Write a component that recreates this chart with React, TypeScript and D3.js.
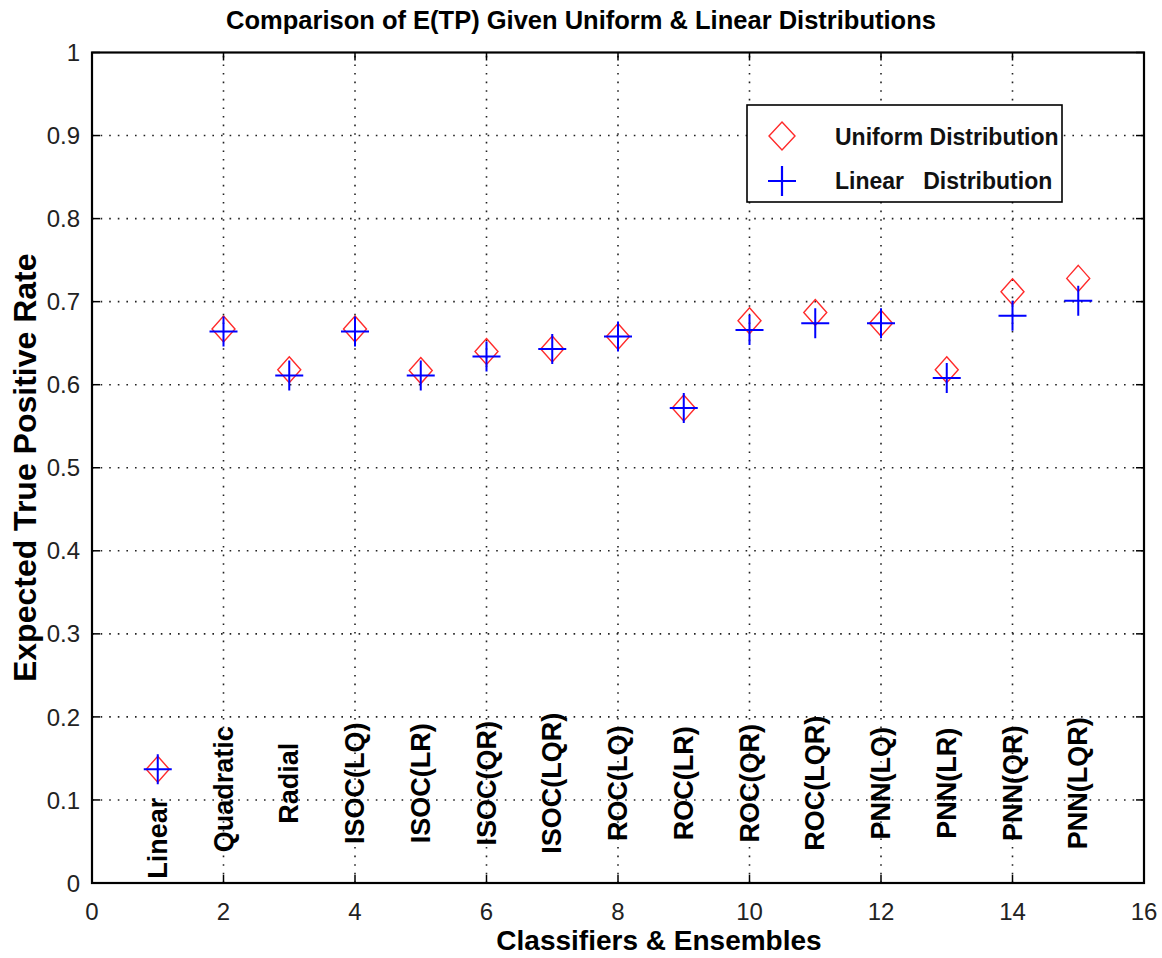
import React from "react";
import * as d3 from "d3";

const categories = ["Linear", "Quadratic", "Radial", "ISOC(LQ)", "ISOC(LR)", "ISOC(QR)", "ISOC(LQR)", "ROC(LQ)", "ROC(LR)", "ROC(QR)", "ROC(LQR)", "PNN(LQ)", "PNN(LR)", "PNN(QR)", "PNN(LQR)"];
const xPositions = [1, 2, 3, 4, 5, 6, 7, 8, 9, 10, 11, 12, 13, 14, 15];
const uniformValues = [0.137, 0.667, 0.618, 0.667, 0.617, 0.640, 0.643, 0.658, 0.572, 0.677, 0.687, 0.674, 0.618, 0.712, 0.728];
const linearValues = [0.137, 0.664, 0.611, 0.664, 0.611, 0.634, 0.643, 0.658, 0.572, 0.666, 0.674, 0.674, 0.608, 0.683, 0.701];
const labelY = [0.054, 0.113, 0.12, 0.12, 0.12, 0.12, 0.12, 0.12, 0.12, 0.12, 0.12, 0.12, 0.12, 0.12, 0.12];
const xTicks = [0, 2, 4, 6, 8, 10, 12, 14, 16];
const yTicks = [0, 0.1, 0.2, 0.3, 0.4, 0.5, 0.6, 0.7, 0.8, 0.9, 1];
const title = "Comparison of E(TP) Given Uniform & Linear Distributions";
const xLabel = "Classifiers & Ensembles";
const yLabel = "Expected True Positive Rate";
const legendLabels = ["Uniform Distribution", "Linear   Distribution"];

const W = 1162, H = 958;
const left = 92, right = 1144, top = 52.5, bottom = 883;
const FONT = "'Liberation Sans', Arial, Helvetica, sans-serif";

export default function App() {
  const x = d3.scaleLinear().domain([0, 16]).range([left, right]);
  const y = d3.scaleLinear().domain([0, 1]).range([bottom, top]);
  const red = "#ff2a2a";
  const blue = "#0000ff";
  const dw = 11.5, dh = 13; // diamond half sizes
  const ph = 14, pv = 15; // plus half sizes
  const diamond = (cx: number, cy: number) => `M${cx},${cy - dh}L${cx + dw},${cy}L${cx},${cy + dh}L${cx - dw},${cy}Z`;
  const plus = (cx: number, cy: number) => `M${cx - ph},${cy}H${cx + ph}M${cx},${cy - pv}V${cy + pv}`;
  const tick = 8;
  const lgX = 747, lgY = 105, lgW = 315, lgH = 97;
  return (
    <svg width={W} height={H} style={{ position: "absolute", left: 0, top: 0, background: "#fff" }} fontFamily={FONT}>
      <rect x={0} y={0} width={W} height={H} fill="#fff" />
      {/* grid */}
      <g stroke="#222" strokeWidth={1.6} strokeDasharray="1.6,7">
        {xTicks.filter(t => t > 0 && t < 16).map(t => (
          <line key={"gx" + t} x1={x(t)} x2={x(t)} y1={bottom} y2={top} />
        ))}
        {yTicks.filter(t => t > 0 && t < 1).map(t => (
          <line key={"gy" + t} x1={left} x2={right} y1={y(t)} y2={y(t)} />
        ))}
      </g>
      {/* ticks */}
      <g stroke="#000" strokeWidth={1.5}>
        {xTicks.map(t => (
          <g key={"tx" + t}>
            <line x1={x(t)} x2={x(t)} y1={bottom} y2={bottom - tick} />
            <line x1={x(t)} x2={x(t)} y1={top} y2={top + tick} />
          </g>
        ))}
        {yTicks.map(t => (
          <g key={"ty" + t}>
            <line x1={left} x2={left + tick} y1={y(t)} y2={y(t)} />
            <line x1={right} x2={right - tick} y1={y(t)} y2={y(t)} />
          </g>
        ))}
      </g>
      <rect x={left} y={top} width={right - left} height={bottom - top} fill="none" stroke="#000" strokeWidth={2.2} />
      {/* tick labels */}
      <g fontSize={24} fill="#222">
        {xTicks.map(t => (
          <text key={"lx" + t} x={x(t)} y={bottom + 37} textAnchor="middle">{t}</text>
        ))}
        {yTicks.map(t => (
          <text key={"ly" + t} x={left - 12} y={y(t)} dy="0.36em" textAnchor="end">{d3.format("~g")(t)}</text>
        ))}
      </g>
      {/* category labels */}
      <g fontSize={27} fontWeight="bold" fill="#000">
        {categories.map((c, i) => (
          <text key={c} transform={`translate(${x(xPositions[i]) + 9},${y(labelY[i])}) rotate(-90)`} textAnchor="middle">{c}</text>
        ))}
      </g>
      {/* markers */}
      <g fill="none" stroke={red} strokeWidth={1.4}>
        {xPositions.map((p, i) => (
          <path key={"u" + i} d={diamond(x(p), y(uniformValues[i]))} />
        ))}
      </g>
      <g fill="none" stroke={blue} strokeWidth={2}>
        {xPositions.map((p, i) => (
          <path key={"l" + i} d={plus(x(p), y(linearValues[i]))} />
        ))}
      </g>
      {/* legend */}
      <rect x={lgX} y={lgY} width={lgW} height={lgH} fill="#fff" stroke="#000" strokeWidth={1.6} />
      <path d={`M782,${136 - 14}L${782 + 13},136L782,${136 + 14}L${782 - 13},136Z`} fill="none" stroke={red} strokeWidth={1.4} />
      <path d={plus(782, 181)} fill="none" stroke={blue} strokeWidth={2.2} />
      <g fontSize={23} fontWeight="bold" fill="#111">
        <text x={835} y={145} style={{ whiteSpace: "pre" }}>{legendLabels[0]}</text>
        <text x={835} y={189} style={{ whiteSpace: "pre" }}>{legendLabels[1]}</text>
      </g>
      {/* titles */}
      <text x={581} y={29} textAnchor="middle" fontSize={25.5} fontWeight="bold" fill="#000">{title}</text>
      <text x={659} y={950} textAnchor="middle" fontSize={28} fontWeight="bold" fill="#000">{xLabel}</text>
      <text transform={`translate(36,${(top + bottom) / 2}) rotate(-90)`} textAnchor="middle" fontSize={32} fontWeight="bold" fill="#000">{yLabel}</text>
    </svg>
  );
}
